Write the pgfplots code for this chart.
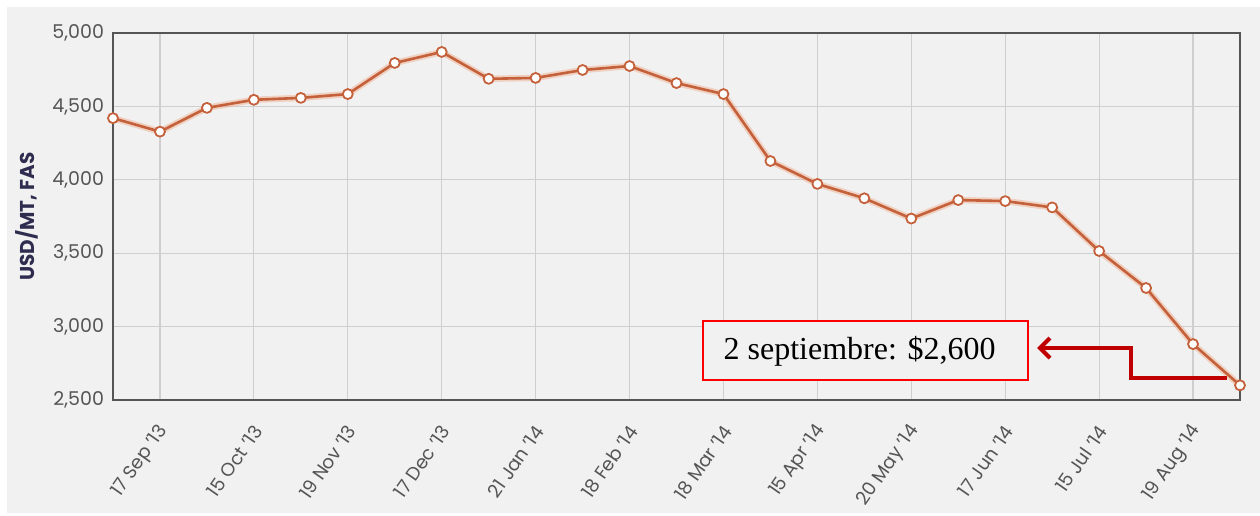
\documentclass[border=0pt]{standalone}
\usepackage{pgfplots}
\pgfplotsset{compat=1.18}
\usepackage{fontspec}
\setmainfont{Poppins}
\newfontfamily\serif{Liberation Serif}
\usetikzlibrary{arrows.meta}
\definecolor{bgc}{HTML}{F1F1F1}
\definecolor{gridc}{HTML}{CFCFCF}
\definecolor{axc}{HTML}{555555}
\definecolor{tickc}{HTML}{555555}
\definecolor{linec}{HTML}{C4603A}
\definecolor{glowc}{HTML}{F0B090}
\definecolor{labc}{HTML}{2E2D50}
\definecolor{arrc}{HTML}{C00000}
\pgfplotstableread{
x y
0 4420
1 4328
2 4490
3 4545
4 4558
5 4584
6 4796
7 4871
8 4688
9 4694
10 4748
11 4775
12 4659
13 4584
14 4128
15 3972
16 3874
17 3736
18 3862
19 3855
20 3812
21 3515
22 3263
23 2881
24 2600
}\prices
\begin{document}
\begin{tikzpicture}[x=1pt,y=1pt]
\useasboundingbox (-56.5,-57.5) rectangle (573.5,200);
\fill[bgc] (-53,-56.5) rectangle (573.5,196.5);
\begin{axis}[
  at={(0,0)}, anchor=south west,
  scale only axis, width=563.5pt, height=183.5pt,
  xmin=0, xmax=24, ymin=2500, ymax=5000,
  clip=false,
  axis background/.style={fill=bgc},
  axis line style={axc, line width=1.4pt},
  grid=major, major grid style={gridc, line width=0.6pt},
  tick style={draw=none},
  ytick={2500,3000,...,5000},
  xtick={1,3,...,23},
  xticklabels={17 Sep '13,15 Oct '13,19 Nov '13,17 Dec '13,21 Jan '14,18 Feb '14,18 Mar '14,15 Apr '14,20 May '14,17 Jun '14,15 Jul '14,19 Aug '14},
  /pgf/number format/.cd, 1000 sep={,}, assume math mode=true, /pgfplots/.cd,
  yticklabel style={font=\fontsize{9.5}{10}\selectfont, text=tickc, xshift=-1pt},
  xticklabel style={font=\fontsize{9.3}{10}\selectfont, text=tickc, xshift=4pt, yshift=-11pt, rotate=55, anchor=east},
]
\addplot[glowc, opacity=0.5, line width=3.2pt, line join=round, forget plot] table[x=x,y=y] {\prices};
\addplot[linec, line width=1.3pt, line join=round, mark=*, mark size=2.5pt,
  mark options={fill=white, draw=linec, line width=0.9pt}] table[x=x,y=y] {\prices};
\draw[red, line width=0.6pt, fill=bgc] (axis cs:12.564,2636) rectangle (axis cs:19.485,3038);
\node[font=\serif\fontsize{16}{18}\selectfont, anchor=center] at (axis cs:15.9,2832) {2 septiembre: \$2,600};
\draw[arrc, line width=2pt, -{Straight Barb[length=5pt,width=10pt,line width=2pt]}]
  (axis cs:23.72,2650) -- (axis cs:21.68,2650) -- (axis cs:21.68,2854) -- (axis cs:19.68,2854);
\end{axis}
\node[font=\bfseries\fontsize{10}{11}\selectfont, text=labc, rotate=90] at (-43,91.75) {USD/MT, FAS};
\end{tikzpicture}
\end{document}
